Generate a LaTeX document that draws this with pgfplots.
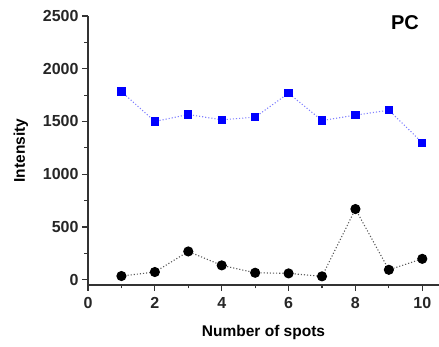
\documentclass[border=0pt]{standalone}
\usepackage{pgfplots}
\pgfplotsset{compat=1.18}
\usepackage{fontspec}
\setmainfont{Liberation Sans}
\begin{document}
\begin{tikzpicture}[x=1pt,y=1pt]
\useasboundingbox (-88,-62) rectangle (351,285);
\begin{axis}[
  at={(0,0)}, anchor=south west,
  scale only axis, width=351pt, height=269pt,
  xmin=0, xmax=10.5, ymin=-50, ymax=2500,
  axis lines*=left,
  axis line style={line width=1.3pt, black!80},
  xtick={0,2,...,10}, ytick={0,500,...,2500},
  minor x tick num=1, minor y tick num=1,
  tick align=outside,
  major tick length=6pt, minor tick length=3.5pt,
  tick style={line width=1.1pt, black!80},
  /pgf/number format/assume math mode=true,
  /pgf/number format/1000 sep={},
  tick label style={font=\bfseries\fontsize{16}{18}\selectfont, text=black!85},
  xticklabel style={yshift=-3pt},
  label style={font=\bfseries\fontsize{15.5}{18}\selectfont},
  xlabel={Number of spots},
  ylabel={Intensity},
  xlabel style={yshift=-10pt},
  ylabel style={yshift=8pt},
  clip=false,
]
\addplot[dotted, line width=1.1pt, blue!50, mark=square*, mark size=3.6pt,
  mark options={solid, fill=blue, draw=blue}]
  coordinates {(1,1783) (2,1500) (3,1566) (4,1516) (5,1541) (6,1768) (7,1509) (8,1560) (9,1607) (10,1299)};
\addplot[dotted, line width=1.1pt, black!65, mark=*, mark size=4.5pt,
  mark options={solid, fill=black, draw=black}]
  coordinates {(1,35) (2,73) (3,268) (4,136) (5,66) (6,60) (7,32) (8,670) (9,94) (10,198)};
\node[font=\bfseries\fontsize{20}{22}\selectfont] at (axis cs:9.48,2434) {PC};
\end{axis}
\end{tikzpicture}
\end{document}
